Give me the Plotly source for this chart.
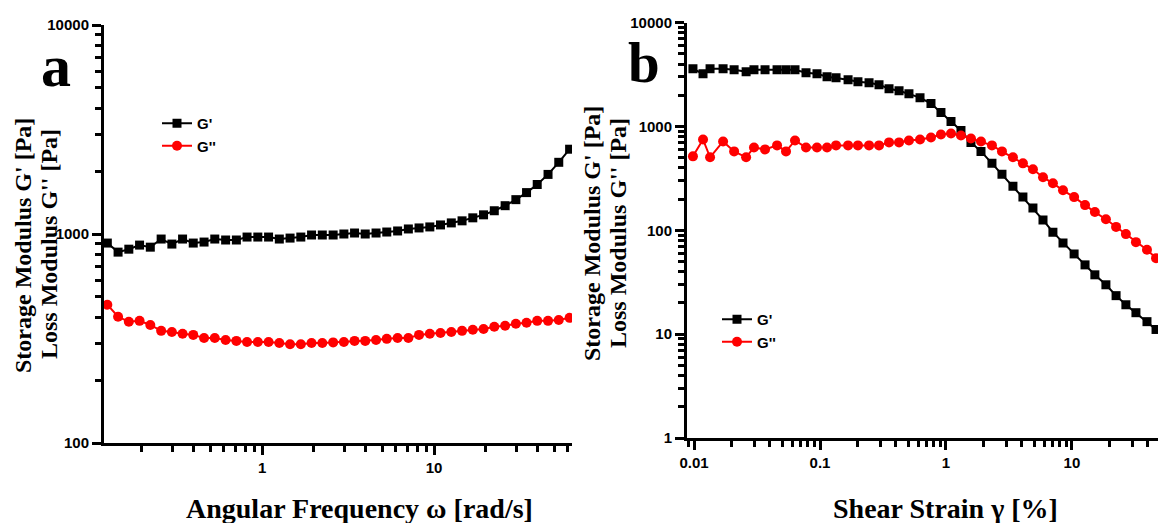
import math
import plotly.graph_objects as go

# ---- Panel a: frequency sweep ----
freq = [0.126, 0.1455, 0.168, 0.194, 0.224, 0.259, 0.299, 0.345, 0.398, 0.46,
        0.531, 0.614, 0.709, 0.818, 0.945, 1.091, 1.26, 1.455, 1.68, 1.94,
        2.24, 2.59, 2.99, 3.45, 3.98, 4.6, 5.31, 6.14, 7.09, 8.18,
        9.45, 10.9, 12.6, 14.55, 16.8, 19.4, 22.4, 25.9, 29.9, 34.5,
        39.8, 46.0, 53.1, 61.4]
g1_a = [905, 819, 846, 885, 865, 946, 895, 946, 905, 915,
        946, 936, 936, 967, 967, 967, 946, 956, 967, 989,
        989, 989, 1000, 1011, 1000, 1011, 1022, 1034, 1057, 1069,
        1081, 1105, 1130, 1156, 1195, 1235, 1292, 1366, 1460, 1578,
        1725, 1928, 2203, 2545]
g2_a = [459, 402, 380, 384, 367, 344, 340, 333, 329, 318,
        318, 311, 308, 304, 304, 304, 301, 297, 297, 301,
        301, 303, 304, 308, 308, 311, 315, 318, 318, 329,
        333, 336, 340, 344, 348, 351, 360, 364, 372, 376,
        384, 384, 388, 397]

# ---- Panel b: strain sweep ----
strain = [0.0098, 0.01178, 0.0134, 0.017, 0.0208, 0.0259, 0.0299, 0.0366, 0.0456, 0.0537,
          0.0633, 0.0774, 0.0946, 0.1137, 0.134, 0.167, 0.2, 0.245, 0.294, 0.353,
          0.424, 0.508, 0.622, 0.76, 0.912, 1.096, 1.315, 1.578, 1.896, 2.317,
          2.782, 3.4, 4.08, 4.9, 5.89, 7.06, 8.49, 10.4, 12.7, 15.2,
          18.6, 22.4, 26.8, 32.2, 39.4, 46.5]
g1_b = [3597, 3222, 3597, 3597, 3520, 3367, 3520, 3520, 3520, 3520,
        3520, 3294, 3222, 3013, 2950, 2824, 2700, 2642, 2529, 2312,
        2213, 2071, 1897, 1662, 1362, 1117, 916, 703, 576, 442,
        347, 266, 209, 164, 126, 96, 75.5, 59.3, 46.5, 37.3,
        29.9, 23.5, 19.2, 16.1, 13.2, 11.1]
g2_b = [516, 750, 505, 718, 576, 505, 629, 602, 658, 576,
        734, 629, 629, 629, 658, 658, 658, 658, 658, 703,
        703, 734, 750, 785, 838, 857, 820, 767, 718, 658,
        576, 505, 442, 387, 325, 284, 243, 209, 175, 150,
        128, 108, 92, 77, 65, 54]

# tick labels
xticks_a = [1, 10]
yticks_a = [100, 1000, 10000]
xticks_b = [0.01, 0.1, 1, 10]
yticks_b = [1, 10, 100, 1000, 10000]

W, H = 1158, 523
BLACK = "black"
RED = "#ff0000"
serif = "Liberation Serif"
sans = "Liberation Sans"

fig = go.Figure()

def add(x, y, name, color, symbol, size, xa, ya, leg):
    fig.add_trace(go.Scatter(
        x=x, y=y, mode="lines+markers", name=name,
        line=dict(color=color, width=2),
        marker=dict(symbol=symbol, size=size, color=color),
        xaxis=xa, yaxis=ya, legend=leg))

add(freq, g1_a, "G'", BLACK, "square", 9, "x", "y", "legend")
add(freq, g2_a, "G''", RED, "circle", 10, "x", "y", "legend")
add(strain, g1_b, "G'", BLACK, "square", 9, "x2", "y2", "legend2")
add(strain, g2_b, "G''", RED, "circle", 10, "x2", "y2", "legend2")

def px_x(p):
    return p / W

def px_y(p):
    return 1 - p / H

tickfont = dict(family=sans, size=15, color=BLACK, weight="bold")

def minor_vals(lo_exp, hi_exp):
    return [m * 10 ** e for e in range(lo_exp, hi_exp) for m in range(2, 10)]

def fmt(v):
    return ("%g" % v)

def axis(domain, rng, anchor, ticks, mlo, mhi):
    return dict(type="log", domain=domain, range=rng, anchor=anchor, automargin=False,
                showline=True, linewidth=3, linecolor=BLACK, mirror=False,
                ticks="outside", ticklen=9, tickwidth=2.5, tickcolor=BLACK,
                tickmode="array", tickvals=ticks, ticktext=[fmt(t) for t in ticks],
                showgrid=False, zeroline=False, tickfont=tickfont,
                minor=dict(ticks="outside", ticklen=6, tickwidth=2.5, tickcolor=BLACK,
                           tickmode="array", tickvals=minor_vals(mlo, mhi), showgrid=False))

dxa = [px_x(104), px_x(572)]
dya = [px_y(443), px_y(25)]
dxb = [px_x(687), 1.0]
dyb = [px_y(438), px_y(22.7)]
rxa = [math.log10(0.1205), math.log10(63.4)]
rya = [2, 4]
rxb = [-2.056, 1.683]
ryb = [0, 4]

legfont = dict(family=sans, size=15, color=BLACK, weight="bold")

fig.update_layout(
    width=W, height=H,
    margin=dict(l=0, r=0, t=0, b=0, autoexpand=False),
    paper_bgcolor="white", plot_bgcolor="white",
    xaxis=axis(dxa, rxa, "y", xticks_a, -1, 2),
    yaxis=axis(dya, rya, "x", yticks_a, 2, 4),
    xaxis2=axis(dxb, rxb, "y2", xticks_b, -3, 2),
    yaxis2=axis(dyb, ryb, "x2", yticks_b, 0, 4),
    legend=dict(x=px_x(157), y=px_y(107), xanchor="left", yanchor="top",
                bgcolor="rgba(0,0,0,0)", font=legfont, tracegroupgap=0),
    legend2=dict(x=px_x(717), y=px_y(303), xanchor="left", yanchor="top",
                 bgcolor="rgba(0,0,0,0)", font=legfont, tracegroupgap=0),
    showlegend=True,
)

ytitle_1 = "Storage Modulus G' [Pa]"
ytitle_2 = "Loss Modulus G'' [Pa]"
ytitles = [
    (ytitle_1, 23, 246), (ytitle_2, 49, 244),
    (ytitle_1, 592, 234), (ytitle_2, 618, 233),
]
for txt, px, py in ytitles:
    fig.add_annotation(text=txt, x=px_x(px), y=px_y(py), textangle=-90,
                       xref="paper", yref="paper", showarrow=False,
                       xanchor="center", yanchor="middle",
                       font=dict(family=serif, size=24, color=BLACK, weight="bold"))

fig.add_annotation(text="Angular Frequency ω [rad/s]", x=px_x(359), y=px_y(508),
                   xref="paper", yref="paper", showarrow=False, xanchor="center", yanchor="middle",
                   font=dict(family=serif, size=28, color=BLACK, weight="bold"))
fig.add_annotation(text="Shear Strain γ [%]", x=px_x(945), y=px_y(508),
                   xref="paper", yref="paper", showarrow=False, xanchor="center", yanchor="middle",
                   font=dict(family=serif, size=28, color=BLACK, weight="bold"))
fig.add_annotation(text="a", x=px_x(56), y=px_y(66),
                   xref="paper", yref="paper", showarrow=False, xanchor="center", yanchor="middle",
                   font=dict(family=serif, size=60, color=BLACK, weight="bold"))
fig.add_annotation(text="b", x=px_x(644), y=px_y(62),
                   xref="paper", yref="paper", showarrow=False, xanchor="center", yanchor="middle",
                   font=dict(family=serif, size=57, color=BLACK, weight="bold"))

fig.write_html("out.html", config={"displayModeBar": False},
               post_script="document.body.style.margin='0px';")
